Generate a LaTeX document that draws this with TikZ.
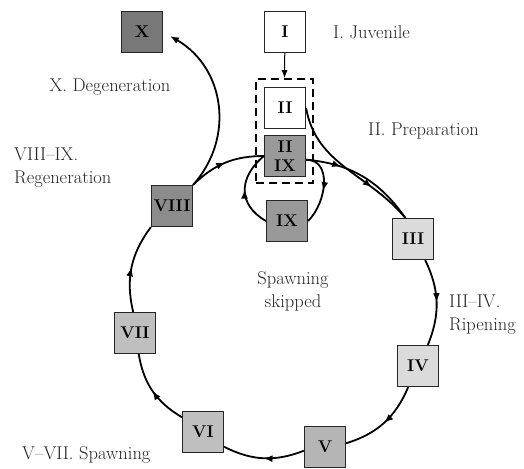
\documentclass[tikz,border=0pt]{standalone}
\usepackage{xcolor}
\usepackage{tikz}
\usetikzlibrary{arrows.meta, decorations.markings}

\begin{document}
\begin{tikzpicture}[x=10pt, y=10pt,
    stage/.style={draw=black!85, line width=1.2pt, minimum size=41pt, inner sep=0pt, font=\fontsize{17}{19}\selectfont\bfseries},
    lbl/.style={font=\fontsize{18.5}{23}\selectfont, text=black!85, inner sep=0pt},
    flow/.style={line width=1.8pt, postaction={decorate}, decoration={markings, mark=at position #1 with {\arrow{Latex[length=9pt,width=7pt]}}}},
    flow/.default=0.5]
    \useasboundingbox (0,0) rectangle (52.4,46.8);

    % --- STAGE BOXES ---
    \node[stage, fill=white] (I) at (28.5,43.6) {I};
    \node[stage, fill=white] (II) at (28.5,36.0) {II};
    \node[stage, fill=black!40, align=center] (IIIX) at (28.5,31.2) {II\\IX};
    \node[stage, fill=black!40] (IX) at (28.7,24.7) {IX};
    \node[stage, fill=black!14] (III) at (41.3,22.9) {III};
    \node[stage, fill=black!14] (IV) at (41.8,10.2) {IV};
    \node[stage, fill=black!29] (V) at (32.5,2.1) {V};
    \node[stage, fill=black!25] (VI) at (20.3,3.6) {VI};
    \node[stage, fill=black!25] (VII) at (13.5,13.5) {VII};
    \node[stage, fill=black!45] (VIII) at (17.2,26.2) {VIII};
    \node[stage, fill=black!53] (X) at (14.2,43.6) {X};

    % dashed group round II and II/IX
    \node[draw, line width=1.6pt, dash pattern=on 8pt off 5pt, minimum width=57pt, minimum height=104pt] (grp) at (28.45,33.7) {};
    \draw[line width=1pt, -{Latex[length=8pt,width=6pt]}] (I) -- (grp.north);

    % --- CYCLE ---
    \draw[flow=0.3] (IIIX.-10) to[out=-5, in=125] (III.110);
    \draw[flow=0.7] (II.east) to[out=-80, in=130] (III.110);
    \draw[flow] (III.-60) to[bend left=24] (IV.65);
    \draw[flow] (IV.-115) to[bend left=25] (V.10);
    \draw[flow] (V.190) to[bend left=24] (VI.-35);
    \draw[flow] (VI.145) to[bend left=25] (VII.-80);
    \draw[flow] (VII.95) to[bend left=25] (VIII.south west);
    \draw[flow] (VIII.north east) to[bend left=22] (IIIX.west);

    % skipped spawning loop
    \draw[flow=0.55] (IIIX.-10) to[out=0, in=45, looseness=1.1] (IX.east);
    \draw[flow] (IX.west) to[out=150, in=220, looseness=1.3] (IIIX.west);

    % degeneration
    \draw[line width=1.8pt, -{Latex[length=9pt,width=7pt]}, shorten >=8pt] (VIII.north east) .. controls (23.5,33) and (22.5,40) .. (X.east);

    % --- LABELS ---
    \node[lbl, anchor=west] (tI) at (33.3,43.6) {I. Juvenile};
    \node[lbl, anchor=west] (tII) at (36.8,33.7) {II. Preparation};
    \node[lbl] (tX) at (11.0,38.1) {X. Degeneration};
    \node[lbl, anchor=west, align=left] (tVIII) at (1.4,30.0) {VIII--IX.\\Regeneration};
    \node[lbl, align=center] (tskip) at (29.3,17.7) {Spawning\\skipped};
    \node[lbl, anchor=west, align=left] (tIII) at (44.9,15.3) {III--IV.\\Ripening};
    \node[lbl, anchor=west] (tV) at (2.2,1.3) {V--VII. Spawning};
\end{tikzpicture}
\end{document}
